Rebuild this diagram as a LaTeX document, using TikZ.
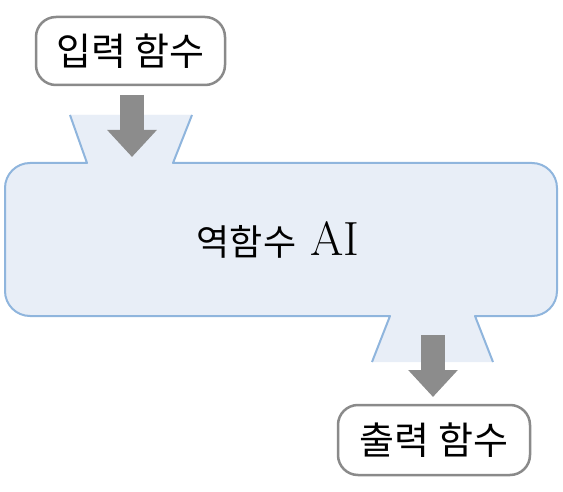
\documentclass[tikz,border=0pt]{standalone}
\usepackage{fontspec}
\newfontfamily\kr{Noto Sans CJK KR}
\usetikzlibrary{arrows.meta}
\definecolor{fillblue}{HTML}{E8EEF7}
\definecolor{lineblue}{HTML}{8FB5DD}
\definecolor{boxgray}{HTML}{8A8A8A}
\definecolor{arrowgray}{HTML}{8C8C8C}
\tikzset{
  fnbox/.style={draw=boxgray, line width=2.5pt, rounded corners=20pt, fill=white,
    minimum width=189pt, minimum height=68pt, inner sep=0pt,
    font=\kr\fontsize{38}{44}\selectfont},
  bigarrow/.style={draw=arrowgray, line width=24pt,
    -{Triangle[width=48pt,length=27pt]}},
  outline/.style={draw=lineblue, line width=2pt, line join=round}
}
\begin{document}
\begin{tikzpicture}[x=1pt,y=1pt]
\useasboundingbox (0,0) rectangle (563,491);
% main body fill
\fill[fillblue] (70,376) -- (87,328) -- (532,328)
  arc[start angle=90,end angle=0,radius=25] -- (557,200)
  arc[start angle=0,end angle=-90,radius=25] -- (475,175) -- (493,129)
  -- (372,129) -- (390,175) -- (30,175)
  arc[start angle=270,end angle=180,radius=25] -- (5,303)
  arc[start angle=180,end angle=90,radius=25] -- (87,328) -- (70,376) -- (192,376) -- (173,328) -- cycle;
\fill[fillblue] (70,376) -- (192,376) -- (173,328) -- (87,328) -- cycle;
% outlines
\draw[outline] (192,376) -- (173,328) -- (532,328)
  arc[start angle=90,end angle=0,radius=25] -- (557,200)
  arc[start angle=0,end angle=-90,radius=25] -- (475,175) -- (493,129);
\draw[outline] (372,129) -- (390,175) -- (30,175)
  arc[start angle=270,end angle=180,radius=25] -- (5,303)
  arc[start angle=180,end angle=90,radius=25] -- (87,328) -- (70,376);
% nodes
\node[fnbox] (in) at (130.5,440) {입력 함수};
\node[fnbox, minimum width=192pt, minimum height=70pt] (out) at (434,51) {출력 함수};
\node[inner sep=0pt] (ai) at (278,251) {\kr\fontsize{36}{42}\selectfont 역함수\hspace{14pt}\fontspec{Latin Modern Roman}\fontsize{48}{54}\selectfont AI};
% arrows
\coordinate (a1s) at (132,396);
\coordinate (a1e) at (132,334);
\coordinate (a2s) at (433,156);
\coordinate (a2e) at (433,94);
\draw[bigarrow] (a1s) -- (a1e);
\draw[bigarrow] (a2s) -- (a2e);
\end{tikzpicture}
\end{document}
